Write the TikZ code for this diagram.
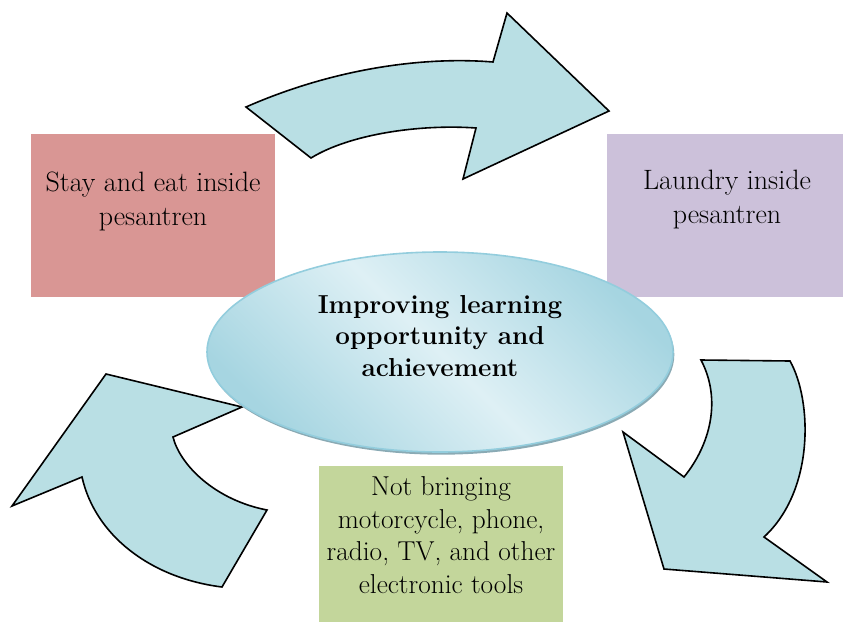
\documentclass[tikz,border=0pt]{standalone}
\usepackage{xcolor}
\usepackage{tikz}
\usetikzlibrary{shapes,arrows,positioning,calc,shadows}

\definecolor{stayred}{HTML}{D99694}
\definecolor{laundrypurple}{HTML}{CCC1DA}
\definecolor{toolsgreen}{HTML}{C3D69B}
\definecolor{arrowblue}{HTML}{B9DFE4}
\definecolor{ovalline}{HTML}{93CDDD}
\definecolor{ovaldark}{HTML}{A6D5E1}
\definecolor{ovallight}{HTML}{DEF0F5}
\definecolor{ovalshadow}{HTML}{8AAAB4}

\begin{document}
\begin{tikzpicture}[x=0.75pt, y=-0.75pt,
    box/.style={rectangle, draw=none, inner sep=0pt},
    boxtext/.style={align=center, inner sep=0pt, font=\fontsize{21}{25.5}\selectfont},
    bigarrow/.style={fill=arrowblue, draw=black, line width=1.2pt, line join=miter},
    oval/.style={ellipse, draw=ovalline, line width=1.2pt, minimum width=349.5pt, minimum height=150pt,
        top color=ovaldark, bottom color=ovaldark, middle color=ovallight, shading angle=-45,
        drop shadow={shadow xshift=1pt, shadow yshift=-2pt, fill=ovalshadow, opacity=1}}]
    \useasboundingbox (0,0) rectangle (843,622);

    % Boxes
    \node[box, fill=stayred, minimum width=183pt, minimum height=122.25pt] (stay) at (153,215.5) {};
    \node[box, fill=laundrypurple, minimum width=177pt, minimum height=122.25pt] (laundry) at (725,215.5) {};
    \node[box, fill=toolsgreen, minimum width=183pt, minimum height=117pt] (tools) at (441,544) {};
    \node[boxtext] (stay text) at (153,201) {Stay and eat inside\\pesantren};
    \node[boxtext] (laundry text) at (727,200) {Laundry inside\\pesantren};
    \node[boxtext, font=\fontsize{20.5}{24.5}\selectfont] (tools text) at (441,535) {Not bringing\\motorcycle, phone,\\radio, TV, and other\\electronic tools};

    % Arrows
    \draw[bigarrow] (246,107) .. controls (330,70) and (420,56) .. (493,62) -- (507,13) -- (609,111)
        -- (463,179) -- (476,128) .. controls (420,124) and (350,134) .. (311,158) -- cycle;
    \draw[bigarrow] (701,360) -- (790,361) .. controls (812,400) and (815,490) .. (764,537) -- (827,582)
        -- (664,569) -- (623,432) -- (684,477) .. controls (710,445) and (722,400) .. (701,360) -- cycle;
    \draw[bigarrow] (222,587) .. controls (150,578) and (95,535) .. (82,477) -- (12,506) -- (106,374)
        -- (242,407) -- (173,437) .. controls (180,465) and (215,500) .. (267,510) -- cycle;

    % Centre
    \node[oval] (goal) at (440,352) {};
    \node[boxtext, font=\fontsize{19.5}{23.6}\selectfont\bfseries] (goal text) at (440,336) {Improving learning\\opportunity and\\achievement};
\end{tikzpicture}
\end{document}
